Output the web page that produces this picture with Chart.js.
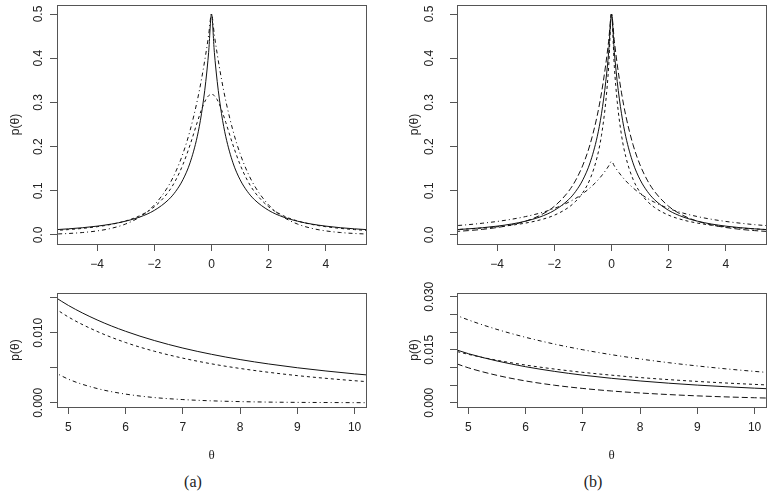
<!DOCTYPE html>
<html>
<head>
<meta charset="utf-8">
<script src="https://cdn.jsdelivr.net/npm/chart.js"></script>
<style>
  body { margin: 0; background: #fff; }
  #wrap { position: relative; width: 776px; height: 495px; }
  canvas { position: absolute; }
  .cap { position: absolute; width: 100px; text-align: center; font-family: "Liberation Serif", "Times New Roman", serif; font-size: 16px; color: #222; line-height: 20px; }
</style>
</head>
<body>
<div id="wrap">
  <canvas id="topA" width="388" height="275" style="left:0;top:0"></canvas>
  <canvas id="topB" width="388" height="275" style="left:388px;top:0"></canvas>
  <canvas id="botA" width="388" height="190" style="left:0;top:275px"></canvas>
  <canvas id="botB" width="388" height="190" style="left:388px;top:275px"></canvas>
  <div class="cap" style="left:143px;top:472px">(a)</div>
  <div class="cap" style="left:543px;top:472px">(b)</div>
</div>
<script>
// theta grid for the upper plots (right half, the curves are symmetric)
const thetaTopHalf = [0, 0.1, 0.2, 0.35, 0.5, 0.75, 1, 1.25, 1.5, 2, 2.5, 3, 3.5, 4, 4.5, 5, 5.5];
const thetaBottom = [4.5, 5, 5.5, 6, 6.5, 7, 7.5, 8, 8.5, 9, 9.5, 10, 10.5];

// (a) top
const aSolid = [0.5, 0.4132, 0.3472, 0.2743, 0.2222, 0.1633, 0.125, 0.0988, 0.08, 0.0556, 0.0408, 0.0313, 0.0247, 0.02, 0.0165, 0.0139, 0.0118];
const aDashed = [0.3183, 0.3152, 0.3061, 0.2836, 0.2546, 0.2037, 0.1592, 0.1242, 0.0979, 0.0637, 0.0439, 0.0318, 0.024, 0.0187, 0.015, 0.0122, 0.0102];
const aDotDash = [0.5, 0.4524, 0.4094, 0.3523, 0.3033, 0.2362, 0.1839, 0.1433, 0.1116, 0.0677, 0.041, 0.0249, 0.0151, 0.0092, 0.0056, 0.0034, 0.002];

// (b) top
const bSolid = [0.5, 0.4132, 0.3472, 0.2743, 0.2222, 0.1633, 0.125, 0.0988, 0.08, 0.0556, 0.0408, 0.0313, 0.0247, 0.02, 0.0165, 0.0139, 0.0118];
const bDashed = [0.5, 0.3804, 0.3018, 0.2256, 0.1768, 0.1265, 0.0962, 0.0764, 0.0625, 0.0447, 0.034, 0.027, 0.0221, 0.0185, 0.0158, 0.0137, 0.012];
const bLongDash = [0.5, 0.4386, 0.3862, 0.3216, 0.2699, 0.2048, 0.1582, 0.1241, 0.0988, 0.0648, 0.0443, 0.0313, 0.0227, 0.0169, 0.0128, 0.0099, 0.0078];
const bDotDash = [0.1667, 0.1561, 0.1465, 0.1337, 0.1224, 0.1067, 0.0938, 0.083, 0.0741, 0.06, 0.0496, 0.0417, 0.0355, 0.0306, 0.0267, 0.0234, 0.0208];

// (a) tail
const cSolid = [0.01653, 0.01389, 0.01183, 0.0102, 0.00889, 0.00781, 0.00692, 0.00617, 0.00554, 0.005, 0.00454, 0.00413, 0.00378];
const cDashed = [0.01498, 0.01224, 0.01019, 0.0086, 0.00736, 0.00637, 0.00556, 0.0049, 0.00435, 0.00388, 0.00349, 0.00315, 0.00286];
const cDotDash = [0.00555, 0.00337, 0.00204, 0.00124, 0.00075, 0.00046, 0.00028, 0.00017, 0.0001, 0.00006, 0.00004, 0.00002, 0.00001];

// (b) tail
const dSolid = [0.01653, 0.01389, 0.01183, 0.0102, 0.00889, 0.00781, 0.00692, 0.00617, 0.00554, 0.005, 0.00454, 0.00413, 0.00378];
const dDashed = [0.01581, 0.0137, 0.01203, 0.01067, 0.00955, 0.00861, 0.00781, 0.00713, 0.00655, 0.00604, 0.00559, 0.0052, 0.00485];
const dLongDash = [0.0128, 0.00989, 0.00776, 0.00617, 0.00497, 0.00405, 0.00333, 0.00277, 0.00232, 0.00195, 0.00166, 0.00142, 0.00122];
const dDotDash = [0.02667, 0.02344, 0.02076, 0.01852, 0.01662, 0.015, 0.01361, 0.0124, 0.01134, 0.01042, 0.0096, 0.00888, 0.00823];

// ticks
const xTicksTop = [-4, -2, 0, 2, 4];
const xLabelsTop = ['\u22124', '\u22122', '0', '2', '4'];
const yTicksTop = [0, 0.1, 0.2, 0.3, 0.4, 0.5];
const yLabelsTop = ['0.0', '0.1', '0.2', '0.3', '0.4', '0.5'];
const xTicksBottom = [5, 6, 7, 8, 9, 10];
const xLabelsBottom = ['5', '6', '7', '8', '9', '10'];
const yTicksBotA = [0, 0.005, 0.01, 0.015];
const yLabelsBotA = ['0.000', '', '0.010', ''];
const yTicksBotB = [0, 0.005, 0.01, 0.015, 0.02, 0.025, 0.03];
const yLabelsBotB = ['0.000', '', '', '0.015', '', '', '0.030'];

const dashes = { solid: [], dashed: [3, 3], longdash: [6, 3], dotdash: [1, 3, 4, 3] };

const thetaTop = thetaTopHalf.slice(1).reverse().map(t => -t).concat(thetaTopHalf);
const mirror = (half) => half.slice(1).reverse().concat(half);

Chart.defaults.font.family = "'Liberation Sans', Arial, sans-serif";
Chart.defaults.font.size = 12;
Chart.defaults.color = '#222';

const frame = {
  id: 'frame',
  afterDraw(chart) {
    const { ctx, chartArea: a } = chart;
    ctx.save();
    ctx.strokeStyle = '#555';
    ctx.lineWidth = 1;
    ctx.strokeRect(Math.round(a.left) + 0.5, Math.round(a.top) + 0.5,
      Math.round(a.right - a.left), Math.round(a.bottom - a.top));
    ctx.restore();
  }
};

function panel(id, o) {
  new Chart(document.getElementById(id), {
    type: 'line',
    data: {
      datasets: o.lines.map(([vals, style]) => ({
        data: o.x.map((t, i) => ({ x: t, y: vals[i] })),
        borderColor: '#111',
        borderWidth: 1,
        borderDash: dashes[style],
        pointRadius: 0,
        cubicInterpolationMode: 'monotone',
        fill: false
      }))
    },
    options: {
      responsive: false,
      animation: false,
      layout: { padding: { top: o.top, right: o.right, left: 0, bottom: 0 } },
      plugins: { legend: { display: false }, tooltip: { enabled: false } },
      scales: {
        x: {
          type: 'linear',
          min: o.xMin,
          max: o.xMax,
          afterBuildTicks: (s) => { s.ticks = o.xTicks.map(v => ({ value: v })); },
          afterFit: (s) => { s.height = o.xHeight; s.paddingLeft = 0; s.paddingRight = 0; },
          grid: { drawOnChartArea: false, tickLength: 7, color: '#555' },
          border: { display: false },
          ticks: { padding: 6, autoSkip: false, maxRotation: 0, minRotation: 0,
            callback: (v, i) => o.xLabels[i] },
          title: o.xTitle ? { display: true, text: 'θ', font: { family: "'Liberation Serif', serif", size: 13 },
            padding: { top: 0, bottom: 2 } } : { display: false }
        },
        y: {
          type: 'linear',
          min: o.yMin,
          max: o.yMax,
          afterBuildTicks: (s) => { s.ticks = o.yTicks.map(v => ({ value: v })); },
          afterFit: (s) => { s.width = o.left; s.paddingTop = 0; s.paddingBottom = 0; },
          grid: { drawOnChartArea: false, tickLength: 7, color: '#555' },
          border: { display: false },
          ticks: { padding: o.yPad, autoSkip: false, minRotation: 90, maxRotation: 90, crossAlign: 'center',
            callback: (v, i) => o.yLabels[i] },
          title: { display: true, text: 'p(θ)', padding: { top: o.yTitlePad, bottom: 0 } }
        }
      }
    },
    plugins: [frame]
  });
}

panel('topA', {
  x: thetaTop, lines: [[mirror(aSolid), 'solid'], [mirror(aDashed), 'dashed'], [mirror(aDotDash), 'dotdash']],
  xMin: -5.4, xMax: 5.4, yMin: -0.0204, yMax: 0.5204,
  xTicks: xTicksTop, xLabels: xLabelsTop, yTicks: yTicksTop, yLabels: yLabelsTop,
  top: 5, right: 22, left: 57, xHeight: 31, yPad: 3, yTitlePad: 8, xTitle: false
});
panel('topB', {
  x: thetaTop, lines: [[mirror(bSolid), 'solid'], [mirror(bDashed), 'dashed'], [mirror(bLongDash), 'longdash'], [mirror(bDotDash), 'dotdash']],
  xMin: -5.4, xMax: 5.4, yMin: -0.0204, yMax: 0.5204,
  xTicks: xTicksTop, xLabels: xLabelsTop, yTicks: yTicksTop, yLabels: yLabelsTop,
  top: 5, right: 10, left: 69, xHeight: 31, yPad: 12, yTitlePad: 19.5, xTitle: false
});
panel('botA', {
  x: thetaBottom, lines: [[cSolid, 'solid'], [cDashed, 'dashed'], [cDotDash, 'dotdash']],
  xMin: 4.8, xMax: 10.2, yMin: -0.0006, yMax: 0.01567,
  xTicks: xTicksBottom, xLabels: xLabelsBottom, yTicks: yTicksBotA, yLabels: yLabelsBotA,
  top: 18, right: 22, left: 57, xHeight: 58, yPad: -3.3, yTitlePad: 8, xTitle: true
});
panel('botB', {
  x: thetaBottom, lines: [[dSolid, 'solid'], [dDashed, 'dashed'], [dLongDash, 'longdash'], [dDotDash, 'dotdash']],
  xMin: 4.8, xMax: 10.2, yMin: -0.0012, yMax: 0.03107,
  xTicks: xTicksBottom, xLabels: xLabelsBottom, yTicks: yTicksBotB, yLabels: yLabelsBotB,
  top: 18, right: 10, left: 69, xHeight: 58, yPad: 5, yTitlePad: 19.5, xTitle: true
});
</script>
</body>
</html>
